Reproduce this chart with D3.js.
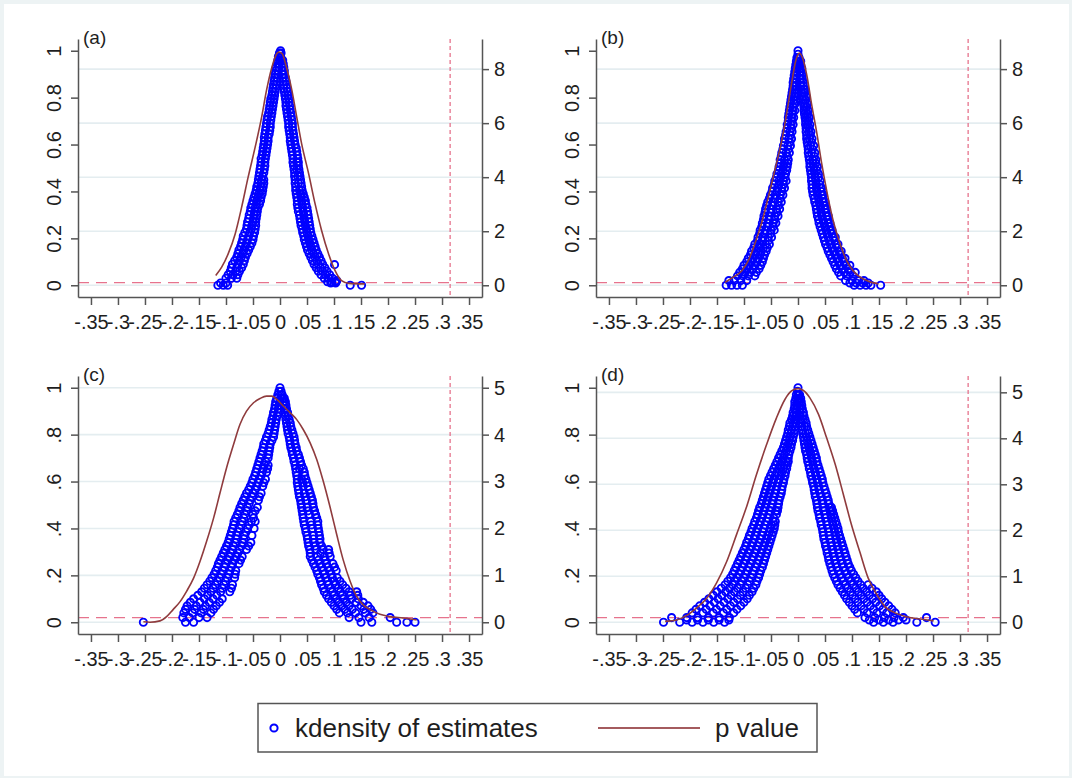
<!DOCTYPE html>
<html><head><meta charset="utf-8">
<script src="https://cdn.jsdelivr.net/npm/d3@7"></script>
<style>html,body{margin:0;padding:0;background:#fff;}svg{display:block;font-family:"Liberation Sans",Arial,sans-serif;}</style>
</head><body><svg id="chart" width="1072" height="778"></svg>
<script>
// ---------- data ----------
const xTicks = [-.35,-.3,-.25,-.2,-.15,-.1,-.05,0,.05,.1,.15,.2,.25,.3,.35];
const xTickLabels = ["-.35","-.3","-.25","-.2","-.15","-.1","-.05","0",".05",".1",".15",".2",".25",".3",".35"];
const leftTicks = [0,.2,.4,.6,.8,1];
const leftLabelsTop = ["0","0.2","0.4","0.6","0.8","1"];
const leftLabelsBottom = ["0",".2",".4",".6",".8","1"];
const rightTicksTop = [0,2,4,6,8];
const rightTicksBottom = [0,1,2,3,4,5];
const panelNames = ["(a)","(b)","(c)","(d)"];
const pAxisMax = [8.68, 8.68, 5.0, 5.1];
const pThreshold = 0.1;
const refEstimate = 0.315;
const xDomain = [-0.374, 0.374];
const densityDomain = [-0.05, 1.05];
const legendLabels = ["kdensity of estimates","p value"];

// kdensity of estimates: rows [density, estimate, estimate, ...]
const kdensA = [
[.00,-.115,-.105,-.097],[.01,-.110,-.100],[.03,-.100,-.090,-.080],[.06,-.092,-.082,-.075],[.09,-.088,-.078,-.068],
[.12,-.080,-.072,-.064],[.15,-.076,-.067,-.058],[.18,-.071,-.062,-.052],[.21,-.068,-.058,-.049],[.24,-.062,-.053,-.046],
[.27,-.060,-.050,-.045],[.30,-.057,-.048,-.043],[.33,-.054,-.046,-.041],[.36,-.050,-.043,-.036],[.39,-.046,-.039,-.033],
[.42,-.043,-.036,-.031],[.45,-.040,-.034,-.030],[.48,-.038,-.030],[.51,-.036,-.028],[.54,-.035,-.027],[.57,-.032,-.025],
[.60,-.030,-.023],[.63,-.029,-.022],[.66,-.027,-.019],[.69,-.025,-.018],[.72,-.023,-.016],[.75,-.020,-.014],
[.78,-.018,-.012],[.81,-.015,-.010],[.84,-.013,-.008],[.87,-.011,-.006],[.90,-.009,-.004],[.93,-.007,-.002],
[.96,-.004,.000],[.99,-.001,.002],[1.00,.001],
[.045,-.096,-.087,-.078],[.075,-.090,-.080,-.071],[.105,-.084,-.075,-.066],[.135,-.078,-.069,-.061],[.165,-.073,-.064,-.055],
[.195,-.069,-.060,-.050],[.225,-.065,-.056,-.047],[.255,-.061,-.052,-.045],[.285,-.058,-.049,-.044],[.315,-.055,-.047,-.042],
[.345,-.052,-.044,-.038],[.375,-.048,-.041,-.035],[.405,-.044,-.037,-.032],[.435,-.041,-.035,-.030],[.465,-.039,-.032],
[.495,-.037,-.029],[.525,-.035,-.028],[.555,-.033,-.026],[.585,-.031,-.024],[.615,-.029,-.022],[.645,-.028,-.020],
[.675,-.026,-.018],[.705,-.024,-.017],[.735,-.021,-.015],[.765,-.019,-.013],[.795,-.017,-.011],[.825,-.014,-.009],
[.855,-.012,-.007],[.885,-.010,-.005],[.915,-.008,-.003],[.945,-.005,-.001],[.975,-.003,.001],
[.96,.003,.005],[.93,.004,.007],[.90,.005,.008],[.87,.006,.011],[.84,.007,.013],[.81,.009,.015],[.78,.011,.017],
[.75,.012,.019],[.72,.014,.021],[.69,.016,.023],[.66,.017,.024],[.63,.019,.026],[.60,.020,.028],[.57,.022,.031],
[.54,.024,.033],[.51,.025,.034],[.48,.027,.036],[.45,.028,.038],[.42,.029,.040],[.39,.030,.038,.043],
[.36,.032,.040,.047],[.33,.033,.042,.050],[.30,.036,.044,.052],[.27,.038,.046,.054],[.24,.041,.049,.056],
[.21,.044,.052,.059],[.18,.047,.055,.063],[.15,.051,.059,.067],[.12,.057,.065,.073],[.09,.063,.071,.079],
[.06,.071,.079,.087],[.03,.082,.090,.097],[.01,.094,.103],[.088,.101],[.02,.105],[.00,.130,.151],
[.945,.004,.006],[.915,.004,.008],[.885,.005,.010],[.855,.007,.012],[.825,.008,.014],[.795,.010,.016],[.765,.011,.018],
[.735,.013,.020],[.705,.015,.022],[.675,.016,.023],[.645,.018,.025],[.615,.019,.027],[.585,.021,.030],[.555,.023,.032],
[.525,.024,.031,.034],[.495,.026,.031,.035],[.465,.027,.033,.037],[.435,.028,.034,.039],[.405,.029,.036,.041],
[.375,.031,.039,.045],[.345,.032,.041,.048],[.315,.034,.043,.051],[.285,.037,.045,.053],[.255,.039,.047,.055],
[.225,.042,.050,.057],[.195,.045,.053,.061],[.165,.049,.057,.065],[.135,.054,.062,.070],[.105,.060,.068,.076],
[.075,.067,.075,.083],[.045,.076,.084,.092],[.015,.088,.096,.104]
];
const kdensB = [
[.00,-.133,-.123,-.113,-.103],[.02,-.128,-.118,-.106,-.095],[.04,-.112,-.102,-.092,-.080],[.07,-.103,-.094,-.084,-.072],
[.10,-.095,-.086,-.076,-.066],[.13,-.088,-.079,-.070,-.062],[.16,-.082,-.073,-.064,-.057],[.19,-.075,-.066,-.055],
[.22,-.071,-.062,-.051],[.25,-.067,-.057,-.046],[.28,-.064,-.054,-.043],[.31,-.061,-.050,-.039],[.34,-.058,-.047,-.036],
[.37,-.053,-.043,-.033],[.40,-.048,-.039,-.030],[.43,-.044,-.035,-.027],[.46,-.040,-.032,-.024],[.49,-.036,-.028,-.021],
[.52,-.033,-.025,-.019],[.55,-.031,-.020],[.58,-.028,-.018],[.61,-.025,-.015],[.64,-.023,-.014],[.67,-.020,-.012],
[.70,-.018,-.011],[.73,-.017,-.010],[.76,-.015,-.009],[.79,-.013,-.008],[.82,-.011,-.006],[.85,-.009,-.005],
[.88,-.008,-.004],[.91,-.006,-.002],[.94,-.004,.000],[.97,-.002,.001,.002],[1.00,.000],
[.055,-.108,-.098,-.088,-.077],[.085,-.100,-.090,-.080,-.069],[.115,-.092,-.083,-.073,-.064],[.145,-.086,-.077,-.068,-.059],
[.175,-.080,-.070,-.060,-.053],[.205,-.074,-.065,-.055,-.049],[.235,-.070,-.060,-.050,-.044],[.265,-.066,-.056,-.046,-.041],
[.295,-.063,-.053,-.043,-.037],[.325,-.060,-.050,-.040,-.034],[.355,-.056,-.046,-.037,-.031],[.385,-.051,-.042,-.033,-.028],
[.415,-.047,-.038,-.030,-.025],[.445,-.043,-.035,-.027,-.022],[.475,-.039,-.031,-.023],[.505,-.035,-.027,-.020],
[.535,-.033,-.025,-.018],[.565,-.030,-.022,-.016],[.595,-.027,-.019,-.014],[.625,-.025,-.017,-.012],[.655,-.022,-.015,-.011],
[.685,-.020,-.013,-.009],[.715,-.018,-.012,-.008],[.745,-.016,-.010,-.006],[.775,-.014,-.008,-.005],[.805,-.012,-.007,-.004],
[.835,-.010,-.006,-.003],[.865,-.009,-.004],[.895,-.007,-.003],[.925,-.005,-.001],[.955,-.003,.001],[.985,.000],
[.94,.003,.005],[.91,.003,.006],[.88,.004,.008],[.85,.005,.010],[.82,.007,.012],[.79,.009,.014],[.76,.011,.016],
[.73,.012,.018],[.70,.014,.019],[.67,.015,.021],[.64,.016,.023],[.61,.017,.025],[.58,.019,.027],[.55,.020,.030],
[.52,.022,.028,.033],[.49,.023,.030,.035],[.46,.025,.032,.038],[.43,.026,.034,.040],[.40,.027,.035,.043],
[.37,.030,.038,.046],[.34,.033,.041,.049],[.31,.035,.043,.052],[.28,.038,.046,.055],[.25,.041,.050,.058],
[.22,.045,.054,.063],[.19,.049,.058,.068],[.16,.054,.063,.073],[.13,.059,.069,.079],[.10,.065,.075,.085],
[.07,.071,.082,.093],[.04,.079,.090,.102],[.02,.088,.100,.112,.122],[.00,.104,.115,.126,.135,.153],
[.955,.002,.005],[.925,.003,.007],[.895,.004,.008],[.865,.005,.010],[.835,.006,.011,.013],[.805,.008,.011,.015],
[.775,.010,.013,.017],[.745,.011,.015,.019],[.715,.013,.017,.021],[.685,.014,.018,.022],[.655,.015,.020,.024],
[.625,.016,.021,.026],[.595,.018,.023,.029],[.565,.019,.025,.031],[.535,.021,.027,.033],[.505,.022,.029,.036],
[.475,.024,.031,.038],[.445,.025,.033,.041],[.415,.026,.034,.042,.044],[.385,.028,.036,.044,.047],[.355,.031,.039,.047,.050],
[.325,.034,.042,.050,.053],[.295,.036,.044,.053,.056],[.265,.039,.048,.056,.059],[.235,.043,.052,.060,.063],
[.205,.047,.056,.065,.069],[.175,.051,.060,.070,.074],[.145,.056,.066,.076,.080],[.115,.062,.072,.082,.087],
[.085,.068,.078,.089,.096],[.055,.075,.086,.097,.106],[.01,.096,.108,.120,.130]
];
const kdensC = [
[1.00,.000],[.97,-.004,.003],[.94,-.008,.000],[.91,-.010,-.003],[.88,-.013,-.005],[.85,-.016,-.008],[.82,-.020,-.010],
[.79,-.025,-.012],[.76,-.030,-.018],[.73,-.033,-.020],[.70,-.037,-.022],[.67,-.041,-.029,-.022],[.64,-.045,-.033,-.025],
[.61,-.050,-.038,-.027],[.58,-.055,-.043,-.032],[.55,-.062,-.050,-.035],[.52,-.068,-.055,-.040],[.49,-.074,-.060,-.042],
[.46,-.079,-.065,-.050],[.43,-.085,-.070,-.053,-.046],[.40,-.088,-.075,-.060,-.048],[.37,-.092,-.080,-.066,-.052],
[.34,-.096,-.083,-.069,-.054],[.31,-.102,-.088,-.075,-.062],[.28,-.108,-.094,-.081,-.070],[.25,-.114,-.101,-.088,-.076],
[.22,-.119,-.106,-.093,-.082],[.19,-.126,-.112,-.098,-.084],[.16,-.135,-.120,-.104,-.088],[.13,-.145,-.128,-.110,-.093],
[.10,-.160,-.140,-.124,-.107],[.07,-.172,-.155,-.138,-.118],[.04,-.178,-.162,-.146,-.128],[.02,-.180,-.168,-.150,-.135],
[.00,-.253,-.175,-.160],
[.985,-.002],[.955,-.006,.001],[.925,-.009,-.002],[.895,-.012,-.004],[.865,-.015,-.007],[.835,-.018,-.009],[.805,-.022,-.011],
[.775,-.027,-.015],[.745,-.031,-.019],[.715,-.035,-.021],[.685,-.039,-.026],[.655,-.043,-.031,-.023],[.625,-.047,-.035],
[.595,-.052,-.040,-.030],[.565,-.058,-.046],[.535,-.065,-.052,-.038],[.505,-.071,-.057],[.475,-.076,-.062,-.046],
[.445,-.082,-.067,-.049],[.415,-.086,-.072,-.057],[.385,-.090,-.078,-.063],[.355,-.094,-.081,-.067],[.325,-.099,-.086,-.071,-.058],
[.295,-.105,-.091,-.078],[.265,-.111,-.097,-.084,-.073],[.235,-.116,-.103,-.090],[.205,-.122,-.109,-.095,-.083],
[.175,-.130,-.116,-.101],[.145,-.140,-.124,-.107,-.090],[.115,-.152,-.134,-.117],[.085,-.166,-.148,-.131,-.112],
[.055,-.175,-.158,-.142,-.123],
[.97,.004],[.94,.006,.010],[.91,.008,.012],[.88,.010,.015],[.85,.012,.019],[.82,.014,.022],[.79,.017,.026],
[.76,.019,.028],[.73,.022,.031],[.70,.025,.036],[.67,.028,.040],[.64,.030,.045],[.61,.032,.040,.048],
[.58,.033,.043,.052],[.55,.035,.045,.056],[.52,.038,.048,.060],[.49,.040,.050,.062],[.46,.042,.054,.066],
[.43,.044,.057,.070],[.40,.047,.060,.071],[.37,.050,.062,.073],[.34,.052,.063,.074],[.31,.055,.067,.080,.090],
[.28,.056,.069,.082,.093],[.25,.062,.074,.086,.098],[.22,.068,.080,.092,.104],[.19,.073,.085,.097,.106],
[.16,.077,.090,.103,.116],[.13,.082,.097,.112,.128,.142],[.10,.090,.104,.118,.132,.145],[.07,.100,.114,.128,.150,.163],
[.04,.110,.125,.140,.158,.172],[.02,.128,.146,.165,.204],[.00,.150,.170,.216,.235,.250],
[.985,.002],[.955,.005,.008],[.925,.007,.011],[.895,.009,.014],[.865,.011,.017],[.835,.013,.020],[.805,.015,.024],
[.775,.018,.027],[.745,.020,.030],[.715,.023,.034],[.685,.026,.038],[.655,.029,.036,.043],[.625,.031,.046],
[.595,.032,.042,.050],[.565,.034,.054],[.535,.036,.047,.058],[.505,.039,.061],[.475,.041,.052,.064],[.445,.043,.068],
[.415,.045,.058,.070],[.385,.048,.072],[.355,.051,.062,.074],[.325,.053,.065,.077],[.295,.056,.075,.091],
[.265,.059,.071,.084],[.235,.065,.077,.089,.101],[.205,.070,.082,.095],[.175,.075,.088,.100,.111],
[.145,.080,.094,.108,.122],[.115,.086,.100,.115,.130,.144],[.085,.095,.109,.123,.141,.154],[.055,.105,.120,.134,.155,.168]
];
const kdensD = [
[1.00,.000],[.97,-.003,.001],[.94,-.006,-.001],[.91,-.007,-.002],[.88,-.010,-.004],[.85,-.015,-.009,-.004],
[.82,-.018,-.012,-.006],[.79,-.021,-.015,-.009],[.76,-.025,-.018,-.012],[.73,-.030,-.022,-.015],[.70,-.036,-.027,-.018],
[.67,-.042,-.033,-.025,-.020],[.64,-.048,-.039,-.030,-.023],[.61,-.054,-.045,-.035,-.026],[.58,-.058,-.049,-.039,-.029],
[.55,-.062,-.053,-.043,-.031],[.52,-.066,-.057,-.047,-.035],[.49,-.071,-.061,-.050,-.037],[.46,-.075,-.065,-.054,-.040],
[.43,-.080,-.070,-.058,-.046,-.042],[.40,-.085,-.075,-.063,-.051,-.044],[.37,-.090,-.079,-.067,-.056,-.048],
[.34,-.095,-.084,-.072,-.061,-.052],[.31,-.100,-.089,-.077,-.066,-.056],[.28,-.106,-.095,-.083,-.071,-.060],
[.25,-.112,-.100,-.088,-.076,-.064],[.22,-.118,-.106,-.094,-.082,-.069],[.19,-.125,-.113,-.100,-.087,-.073],
[.16,-.135,-.121,-.107,-.093,-.078],[.13,-.150,-.134,-.118,-.102,-.085],[.10,-.165,-.148,-.130,-.112,-.094],
[.07,-.182,-.163,-.144,-.125,-.106],[.04,-.196,-.176,-.157,-.138,-.119],[.02,-.234,-.206,-.186,-.166,-.146,-.127],
[.00,-.249,-.219,-.196,-.176,-.156,-.136],
[.985,-.001],[.955,-.004,.000],[.925,-.006,-.002],[.895,-.009,-.004],[.865,-.012,-.007,-.003],[.835,-.016,-.010,-.005],
[.805,-.019,-.013,-.007],[.775,-.023,-.016,-.010],[.745,-.027,-.020,-.013],[.715,-.033,-.025,-.017],[.685,-.039,-.030,-.022,-.018],
[.655,-.045,-.036,-.027,-.021],[.625,-.051,-.042,-.032,-.024],[.595,-.056,-.047,-.037,-.027],[.565,-.060,-.051,-.041,-.030],
[.535,-.064,-.055,-.045,-.033],[.505,-.068,-.059,-.048,-.036],[.475,-.073,-.063,-.052,-.041,-.038],[.445,-.077,-.067,-.056,-.045],
[.415,-.082,-.072,-.061,-.049,-.043],[.385,-.087,-.077,-.065,-.053,-.046],[.355,-.092,-.081,-.070,-.058,-.050],
[.325,-.097,-.086,-.075,-.063,-.054],[.295,-.103,-.092,-.080,-.068,-.058],[.265,-.109,-.097,-.085,-.073,-.062],
[.235,-.115,-.103,-.091,-.079,-.066],[.205,-.121,-.109,-.097,-.084,-.071],[.175,-.130,-.117,-.104,-.090,-.076],
[.145,-.142,-.127,-.112,-.097,-.082],[.115,-.157,-.141,-.124,-.107,-.090],[.085,-.173,-.155,-.137,-.119,-.100],
[.055,-.189,-.170,-.151,-.132,-.113],[.01,-.206,-.186,-.166,-.146,-.128],
[.97,.003],[.94,.002,.006],[.91,.003,.008],[.88,.004,.011],[.85,.006,.015],[.82,.008,.018],[.79,.010,.016,.022],
[.76,.012,.019,.026],[.73,.014,.022,.030],[.70,.017,.025,.034],[.67,.020,.028,.037],[.64,.023,.032,.041],
[.61,.026,.035,.045],[.58,.029,.038,.048],[.55,.031,.041,.052],[.52,.034,.045,.056],[.49,.036,.047,.059,.062],
[.46,.039,.050,.061,.066],[.43,.042,.053,.064,.070],[.40,.045,.056,.067,.074],[.37,.047,.058,.070,.077],
[.34,.050,.061,.072,.081],[.31,.053,.064,.075,.085],[.28,.056,.067,.078,.089],[.25,.059,.070,.082,.093],
[.22,.063,.075,.087,.099],[.19,.068,.081,.094,.107],[.16,.074,.088,.102,.116,.130],[.13,.082,.097,.112,.127,.145],
[.10,.090,.106,.122,.138,.155],[.07,.100,.117,.134,.151,.168],[.04,.110,.128,.146,.164,.180],
[.02,.124,.142,.160,.178,.195,.238],[.00,.140,.158,.176,.220,.254],
[.955,.002,.005],[.925,.003,.007],[.895,.004,.010],[.865,.005,.009,.013],[.835,.007,.012,.016],[.805,.009,.014,.020],
[.775,.011,.017,.024],[.745,.013,.020,.028],[.715,.016,.024,.032],[.685,.018,.027,.035],[.655,.021,.030,.039],
[.625,.024,.033,.043],[.595,.027,.036,.046],[.565,.030,.039,.050],[.535,.032,.043,.054],[.505,.035,.046,.057],
[.475,.037,.048,.060,.064],[.445,.040,.051,.062,.068],[.415,.043,.054,.065,.072],[.385,.046,.057,.068,.075],
[.355,.048,.059,.071,.079],[.325,.051,.062,.073,.083],[.295,.054,.065,.076,.087],[.265,.057,.068,.080,.091],
[.235,.061,.072,.084,.096],[.205,.065,.078,.090,.103],[.175,.071,.084,.098,.111],[.145,.078,.092,.107,.121,.137],
[.115,.086,.101,.117,.132,.150],[.085,.095,.111,.128,.144,.161],[.055,.105,.122,.140,.157,.174],[.01,.132,.150,.168,.186,.200]
];

// p value curves: [estimate, p value]
const pValueA = [[-.119,.36],[-.108,.67],[-.096,1.16],[-.083,1.90],[-.071,2.89],[-.059,4.00],[-.046,5.11],[-.034,6.22],[-.025,7.21],[-.015,8.07],[-.006,8.57],[-.002,8.63],[.004,8.57],[.012,8.07],[.022,7.21],[.031,6.22],[.040,5.24],[.053,4.13],[.065,3.01],[.077,2.03],[.090,1.16],[.102,.54],[.114,.17],[.127,.07],[.157,.05]];
const pValueB = [[-.135,.11],[-.120,.30],[-.104,.54],[-.092,.91],[-.080,1.53],[-.067,2.33],[-.055,3.26],[-.043,4.25],[-.030,5.36],[-.021,6.35],[-.012,7.46],[-.004,8.32],[.0025,8.59],[.010,8.32],[.017,7.70],[.025,6.72],[.035,5.61],[.044,4.49],[.053,3.51],[.065,2.40],[.078,1.53],[.090,.91],[.102,.54],[.115,.30],[.130,.15],[.149,.05]];
const pValueC = [[-.253,.01],[-.241,0],[-.222,.03],[-.210,.12],[-.198,.27],[-.185,.44],[-.173,.66],[-.160,.94],[-.148,1.30],[-.136,1.72],[-.123,2.22],[-.111,2.76],[-.099,3.29],[-.086,3.79],[-.074,4.22],[-.062,4.50],[-.049,4.68],[-.037,4.77],[-.025,4.82],[-.015,4.82],[-.006,4.75],[.006,4.61],[.0185,4.47],[.031,4.32],[.043,4.11],[.056,3.82],[.068,3.47],[.080,3.01],[.093,2.44],[.105,1.87],[.117,1.33],[.130,.87],[.142,.55],[.154,.37],[.167,.27],[.185,.17],[.204,.12],[.228,.09],[.253,.05]];
const pValueD = [[-.246,.02],[-.225,.05],[-.206,.15],[-.188,.31],[-.169,.52],[-.151,.85],[-.132,1.32],[-.114,1.90],[-.095,2.52],[-.077,3.21],[-.058,3.87],[-.040,4.44],[-.024,4.85],[-.012,5.03],[0,5.08],[.010,5.04],[.022,4.88],[.038,4.52],[.053,4.01],[.069,3.43],[.084,2.78],[.099,2.12],[.115,1.51],[.130,.96],[.146,.60],[.161,.34],[.177,.22],[.201,.12],[.226,.07],[.251,.03]];

// ---------- layout / style ----------
const W = 404, H = 258;
const COL = {blue:"#0000ff", line:"#8f3b3d", ref:"#e6738d", grid:"#e4edf0", axis:"#555", text:"#1e1e1e"};
const panels = [
  {name:panelNames[0], kd:kdensA, pv:pValueA, pMax:pAxisMax[0], rTicks:rightTicksTop, lLabels:leftLabelsTop, left:78, top:39},
  {name:panelNames[1], kd:kdensB, pv:pValueB, pMax:pAxisMax[1], rTicks:rightTicksTop, lLabels:leftLabelsTop, left:596, top:39},
  {name:panelNames[2], kd:kdensC, pv:pValueC, pMax:pAxisMax[2], rTicks:rightTicksBottom, lLabels:leftLabelsBottom, left:78, top:376},
  {name:panelNames[3], kd:kdensD, pv:pValueD, pMax:pAxisMax[3], rTicks:rightTicksBottom, lLabels:leftLabelsBottom, left:596, top:376}
];

const svg = d3.select("#chart");
svg.append("rect").attr("width",1072).attr("height",778).attr("fill","#edf3f4");
svg.append("rect").attr("x",4).attr("y",4).attr("width",1065).attr("height",772).attr("fill","#fff");

panels.forEach(p => {
  const g = svg.append("g").attr("transform",`translate(${p.left},${p.top})`);
  const x = d3.scaleLinear().domain(xDomain).range([0,W]);
  const yL = d3.scaleLinear().domain(densityDomain).range([H,0]);
  const yR = d3.scaleLinear().domain([densityDomain[0]*p.pMax, densityDomain[1]*p.pMax]).range([H,0]);

  g.selectAll("line.grid").data(p.rTicks).join("line").attr("class","grid")
    .attr("x1",0).attr("x2",W).attr("y1",d=>yR(d)).attr("y2",d=>yR(d))
    .attr("stroke",COL.grid).attr("stroke-width",1.6);

  g.append("line").attr("x1",0).attr("x2",W).attr("y1",yR(pThreshold)).attr("y2",yR(pThreshold))
    .attr("stroke",COL.ref).attr("stroke-width",1.3).attr("stroke-dasharray","11,7");
  g.append("line").attr("x1",x(refEstimate)).attr("x2",x(refEstimate)).attr("y1",0).attr("y2",H)
    .attr("stroke",COL.ref).attr("stroke-width",1.3).attr("stroke-dasharray","4,3");

  const pts = p.kd.flatMap(r => r.slice(1).map(v => [v, r[0]]));
  g.selectAll("circle").data(pts).join("circle")
    .attr("cx",d=>x(d[0])).attr("cy",d=>yL(d[1])).attr("r",3.6)
    .attr("fill","none").attr("stroke",COL.blue).attr("stroke-width",1.9);

  g.append("path").datum(p.pv)
    .attr("d", d3.line().x(d=>x(d[0])).y(d=>yR(d[1])).curve(d3.curveMonotoneX))
    .attr("fill","none").attr("stroke",COL.line).attr("stroke-width",1.6);

  const styleAxis = sel => {
    sel.select(".domain").attr("stroke",COL.axis).attr("stroke-width",1.5);
    sel.selectAll(".tick line").attr("stroke",COL.axis).attr("stroke-width",1.5);
    sel.selectAll(".tick text").attr("fill",COL.text).style("font-size","20px")
      .style("font-family","'Liberation Sans',Arial,sans-serif");
  };

  const gx = g.append("g").attr("transform",`translate(0,${H})`)
    .call(d3.axisBottom(x).tickValues(xTicks).tickFormat((d,i)=>xTickLabels[i]).tickSize(8).tickSizeOuter(0).tickPadding(10));
  styleAxis(gx);

  const gl = g.append("g")
    .call(d3.axisLeft(yL).tickValues(leftTicks).tickFormat((d,i)=>p.lLabels[i]).tickSize(7).tickSizeOuter(0));
  styleAxis(gl);
  gl.selectAll(".tick text").attr("x",0).attr("dy",0).attr("text-anchor","middle")
    .attr("transform","translate(-17,0) rotate(-90)");

  const gr = g.append("g").attr("transform",`translate(${W},0)`)
    .call(d3.axisRight(yR).tickValues(p.rTicks).tickSize(7).tickSizeOuter(0).tickPadding(5).tickFormat(d3.format("d")));
  styleAxis(gr);

  g.append("text").attr("x",5).attr("y",5).text(p.name)
    .attr("fill",COL.text).style("font-size","19px");
});

// legend
const lg = svg.append("g");
lg.append("rect").attr("x",258).attr("y",703.5).attr("width",559).attr("height",48.5)
  .attr("fill","#fff").attr("stroke","#555").attr("stroke-width",1.5);
lg.append("circle").attr("cx",274).attr("cy",728).attr("r",3.6)
  .attr("fill","none").attr("stroke",COL.blue).attr("stroke-width",2);
lg.append("text").attr("x",295).attr("y",737).text(legendLabels[0])
  .attr("fill",COL.text).style("font-size","26px");
lg.append("line").attr("x1",598).attr("x2",700).attr("y1",728).attr("y2",728)
  .attr("stroke","#a45b5e").attr("stroke-width",2.2);
lg.append("text").attr("x",715).attr("y",737).text(legendLabels[1])
  .attr("fill",COL.text).style("font-size","26px");
</script></body></html>
